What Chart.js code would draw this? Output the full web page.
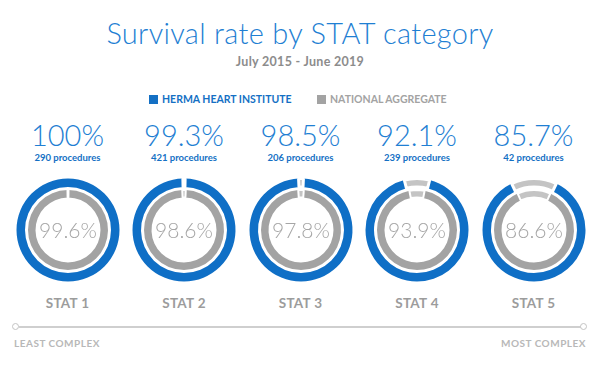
<!DOCTYPE html>
<html>
<head>
<meta charset="utf-8">
<script src="https://cdn.jsdelivr.net/npm/chart.js@4.4.1/dist/chart.umd.min.js"></script>
<style>
  html, body { margin: 0; padding: 0; background: #fff; }
  #wrap { position: relative; width: 600px; height: 369px; overflow: hidden; font-family: Lato, "Open Sans", sans-serif; }
  .abs { position: absolute; white-space: nowrap; }
  .title { left: 0; width: 600px; top: 15px; text-align: center; font-size: 29px; letter-spacing: 0.3px; font-weight: 300; color: #1f7fd3; }
  .sub { left: 0; width: 600px; top: 54px; text-align: center; font-size: 12.5px; letter-spacing: 0.3px; font-weight: 700; color: #8c8c8c; }
  .legend { top: 93px; font-size: 10.5px; font-weight: 700; }
  .legend i { display: inline-block; width: 9px; height: 9px; margin-right: 4px; vertical-align: -1px; }
  .pct { top: 117px; width: 120px; text-align: center; font-size: 29px; font-weight: 300; color: #1f7fd3; }
  .proc { top: 152px; width: 120px; text-align: center; font-size: 9.5px; font-weight: 700; color: #1470c4; }
  .stat { top: 295px; width: 120px; text-align: center; font-size: 13.5px; letter-spacing: 0.3px; font-weight: 700; color: #9c9c9c; }
  canvas.ring { position: absolute; }
  .axis { left: 19px; width: 562px; top: 326px; height: 2px; background: #cfcfcf; }
  .dot { top: 323px; width: 5px; height: 5px; border: 1.5px solid #c4c4c4; border-radius: 50%; background: #fff; }
  .end { top: 337px; font-size: 10px; letter-spacing: 0.5px; font-weight: 700; color: #b8b8b8; }
</style>
</head>
<body>
<div id="wrap">
  <div class="abs title">Survival rate by STAT category</div>
  <div class="abs sub">July 2015 - June 2019</div>
  <div class="abs legend" style="left:149px;color:#1470c4"><i style="background:#1470c4"></i>HERMA HEART INSTITUTE</div>
  <div class="abs legend" style="left:317px;color:#a3a3a3"><i style="background:#a3a3a3"></i>NATIONAL AGGREGATE</div>
  <div class="abs axis"></div>
  <div class="abs dot" style="left:12px"></div>
  <div class="abs dot" style="left:580px"></div>
  <div class="abs end" style="left:14px">LEAST COMPLEX</div>
  <div class="abs end" style="right:14px">MOST COMPLEX</div>
</div>
<script>
const categories = ['STAT 1', 'STAT 2', 'STAT 3', 'STAT 4', 'STAT 5'];
const hermaRates = [100, 99.3, 98.5, 92.1, 85.7];
const nationalRates = [99.6, 98.6, 97.8, 93.9, 86.6];
const procedures = [290, 421, 206, 239, 42];

const ringY = 230;
const size = 120;

const blue = '#0f6fc6';
const gray = '#a3a3a3';
const lightGray = '#c4c4c4';

const wrap = document.getElementById('wrap');

function addText(cls, text, left) {
    const d = document.createElement('div');
    d.className = 'abs ' + cls;
    d.style.left = (left - 60) + 'px';
    d.textContent = text;
    wrap.appendChild(d);
}

const centerLabel = {
    id: 'centerLabel',
    afterDraw(chart) {
        const c = chart.ctx;
        const meta = chart.getDatasetMeta(0).data[0];
        c.save();
        c.font = '300 21px Lato, "Open Sans", sans-serif';
        c.fillStyle = '#a6a6a6';
        c.textAlign = 'center';
        c.textBaseline = 'middle';
        c.fillText(chart.options.plugins.centerLabel.text, meta.x, meta.y + 1);
        c.restore();
    }
};

categories.forEach((cat, i) => {
    const cx = 67.5 + 116.5 * i;
    addText('pct', hermaRates[i] + '%', cx);
    addText('proc', procedures[i] + ' procedures', cx);
    addText('stat', cat, cx);

    const cv = document.createElement('canvas');
    cv.className = 'ring';
    cv.width = size;
    cv.height = size;
    cv.style.left = (cx - size / 2) + 'px';
    cv.style.top = (ringY - size / 2) + 'px';
    wrap.appendChild(cv);

    const hFail = +(100 - hermaRates[i]).toFixed(1);
    const nFail = +(100 - nationalRates[i]).toFixed(1);

    new Chart(cv.getContext('2d'), {
        type: 'doughnut',
        data: {
            labels: ['Survived', 'Did not survive'],
            datasets: [{
                label: 'Herma Heart Institute',
                data: [hermaRates[i], hFail],
                backgroundColor: [blue, lightGray],
                borderColor: '#fff',
                borderWidth: ctx => (ctx.dataIndex === 1 && ctx.raw > 0) ? 3 : 0,
                rotation: hFail * 1.8,
                weight: 8.5
            }, {
                label: 'spacer',
                data: [1],
                backgroundColor: 'rgba(0,0,0,0)',
                borderWidth: 0,
                weight: 3
            }, {
                label: 'National Aggregate',
                data: [nationalRates[i], nFail],
                backgroundColor: [gray, lightGray],
                borderColor: '#fff',
                borderWidth: ctx => (ctx.dataIndex === 1 && ctx.raw > 0) ? 2 : 0,
                rotation: nFail * 1.8,
                weight: 7.5
            }]
        },
        options: {
            responsive: false,
            animation: false,
            radius: 51.5,
            cutout: '63.1%',
            layout: { padding: 0 },
            plugins: {
                legend: { display: false },
                tooltip: { enabled: false },
                centerLabel: { text: nationalRates[i] + '%' }
            }
        },
        plugins: [centerLabel]
    });
});
</script>
</body>
</html>
